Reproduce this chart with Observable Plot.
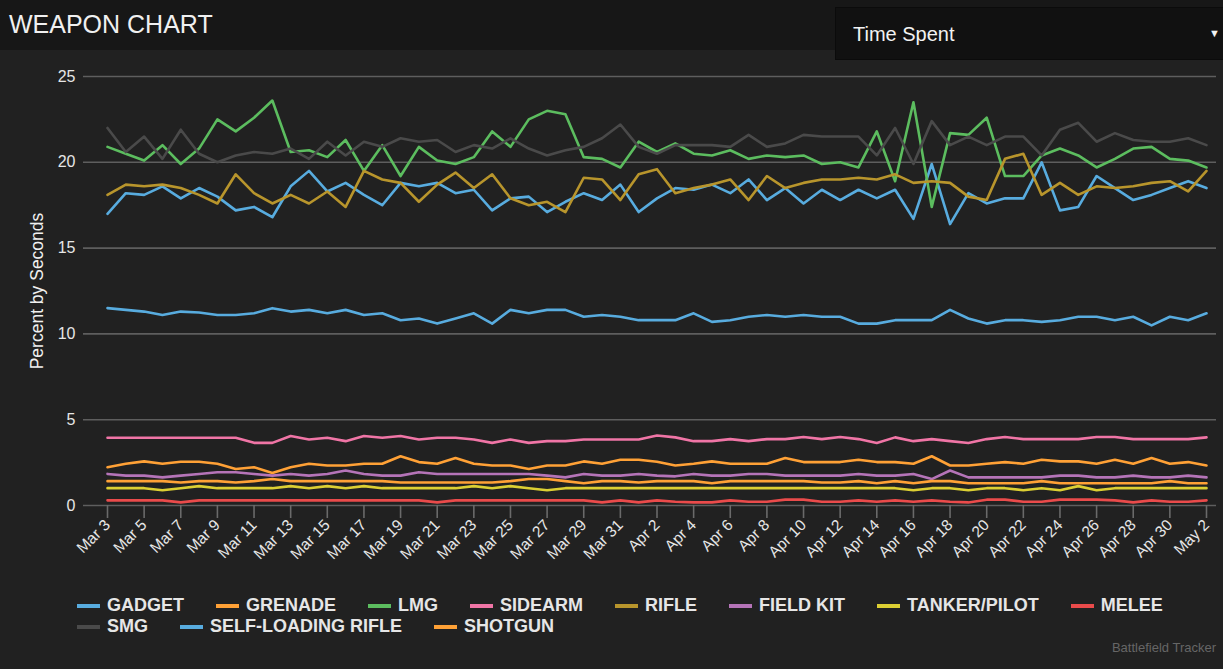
<!DOCTYPE html>
<html>
<head>
<meta charset="utf-8">
<script src="https://cdn.jsdelivr.net/npm/d3@7"></script>
<script src="https://cdn.jsdelivr.net/npm/@observablehq/plot@0.6"></script>
<style>
  html, body { margin: 0; padding: 0; background: #212121; overflow: hidden; width: 1223px; height: 669px; }
  body { position: relative; font-family: "Liberation Sans", Arial, sans-serif; }
  #header { position: absolute; left: 0; top: 0; width: 1223px; height: 50px; background: #171717; }
  #title { position: absolute; left: 9px; top: 9px; font-size: 25px; color: #f0f0f0; line-height: 30px; }
  #dropdown { position: absolute; left: 835px; top: 7px; width: 400px; height: 53px; background: #111111; border: 1px solid #0b0b0b; box-sizing: border-box; }
  #dropdown .lbl { position: absolute; left: 17px; top: 14px; font-size: 20px; color: #f2f2f2; line-height: 24px; }
  #dropdown .arr { position: absolute; left: 373px; top: 19px; font-size: 11px; color: #f2f2f2; }
  #chart { position: absolute; left: 0; top: 50px; }
  #legend { position: absolute; left: 77px; top: 595px; width: 1140px; display: flex; flex-wrap: wrap; }
  .item { display: flex; align-items: center; height: 21px; margin-right: 32px; font-weight: bold; font-size: 18px; color: #e6e6e6; }
  .sw { width: 23px; height: 4px; margin-right: 7px; }
  #credit { position: absolute; right: 7px; top: 640px; font-size: 13px; color: #666; }
</style>
</head>
<body>
<div id="header"><div id="title">WEAPON CHART</div></div>
<div id="dropdown"><span class="lbl">Time Spent</span><span class="arr">▼</span></div>
<div id="chart"></div>
<div id="legend"></div>
<div id="credit">Battlefield Tracker</div>
<script>
const startDay = "2019-03-03";
const endDay = "2019-05-02";
const yTicks = [0, 5, 10, 15, 20, 25];
const yLabel = "Percent by Seconds";

const weapons = ["GADGET", "GRENADE", "LMG", "SIDEARM", "RIFLE", "FIELD KIT", "TANKER/PILOT", "MELEE", "SMG", "SELF-LOADING RIFLE", "SHOTGUN"];
const colors = ["#58acdf", "#ffa136", "#5cbd5f", "#f075a6", "#b8952c", "#b574b8", "#dccf33", "#ea4b4b", "#4a4a4a", "#58acdf", "#ffa136"];

const gadget = [17.0,18.2,18.1,18.6,17.9,18.5,18.0,17.2,17.4,16.8, 18.6,19.5,18.3,18.8,18.1,17.5,18.8,18.6,18.8,18.2, 18.4,17.2,17.9,18.0,17.1,17.7,18.2,17.8,18.7,17.1, 17.9,18.5,18.4,18.7,18.2,19.0,17.8,18.5,17.6,18.4, 17.8,18.4,17.9,18.4,16.7,19.9,16.4,18.2,17.6,17.9, 17.9,20.0,17.2,17.4,19.2,18.5,17.8,18.1,18.5,18.9, 18.5];
const grenade = [2.23,2.43,2.57,2.43,2.55,2.55,2.43,2.13,2.23,1.90, 2.23,2.43,2.33,2.33,2.43,2.43,2.87,2.53,2.43,2.77, 2.43,2.33,2.33,2.13,2.33,2.33,2.57,2.43,2.67,2.67, 2.55,2.33,2.43,2.57,2.43,2.43,2.43,2.77,2.53,2.53, 2.53,2.67,2.53,2.53,2.43,2.87,2.33,2.33,2.43,2.53, 2.43,2.67,2.57,2.57,2.43,2.67,2.43,2.77,2.43,2.53, 2.33];
const lmg = [20.9,20.5,20.1,21.0,19.9,20.8,22.5,21.8,22.6,23.6, 20.6,20.7,20.3,21.3,19.5,21.0,19.2,20.9,20.1,19.9, 20.3,21.8,20.9,22.5,23.0,22.8,20.3,20.2,19.7,21.2, 20.6,21.1,20.5,20.4,20.7,20.2,20.4,20.3,20.4,19.9, 20.0,19.7,21.8,18.9,23.5,17.4,21.7,21.6,22.6,19.2, 19.2,20.4,20.8,20.4,19.7,20.2,20.8,20.9,20.2,20.1, 19.7];
const sidearm = [3.95,3.95,3.95,3.95,3.95,3.95,3.95,3.95,3.65,3.65, 4.05,3.85,3.95,3.75,4.05,3.95,4.05,3.85,3.95,3.95, 3.85,3.65,3.85,3.65,3.75,3.75,3.85,3.85,3.85,3.85, 4.08,3.97,3.75,3.75,3.87,3.75,3.87,3.87,3.99,3.87, 3.99,3.87,3.64,3.97,3.75,3.87,3.75,3.64,3.87,3.99, 3.87,3.87,3.87,3.87,3.99,3.99,3.87,3.87,3.87,3.87, 3.97];
const rifle = [18.1,18.7,18.6,18.7,18.5,18.1,17.6,19.3,18.2,17.6, 18.1,17.6,18.3,17.4,19.5,19.0,18.8,17.7,18.7,19.4, 18.5,19.3,17.9,17.5,17.7,17.1,19.1,19.0,17.8,19.3, 19.6,18.2,18.5,18.7,19.0,17.8,19.2,18.5,18.8,19.0, 19.0,19.1,19.0,19.3,18.8,18.9,18.8,18.0,17.8,20.2, 20.5,18.1,18.8,18.1,18.6,18.5,18.6,18.8,18.9,18.3, 19.5];
const fieldKit = [1.84,1.74,1.74,1.64,1.74,1.84,1.94,1.94,1.84,1.74, 1.84,1.74,1.84,2.04,1.84,1.74,1.74,1.94,1.84,1.84, 1.84,1.84,1.84,1.84,1.74,1.64,1.84,1.74,1.74,1.84, 1.74,1.70,1.84,1.74,1.74,1.84,1.84,1.74,1.74,1.74, 1.74,1.84,1.74,1.74,1.84,1.54,2.04,1.64,1.64,1.64, 1.64,1.64,1.74,1.74,1.64,1.64,1.74,1.64,1.64,1.74, 1.64];
const tanker = [1.01,1.01,1.01,0.89,1.01,1.13,1.01,1.01,1.01,1.01, 1.13,1.01,1.13,1.01,1.13,1.01,1.01,1.01,1.01,1.01, 1.13,1.01,1.13,1.01,0.89,1.01,1.01,1.01,1.01,1.01, 1.01,1.01,1.01,1.01,1.01,1.01,1.01,1.01,1.01,1.01, 1.01,1.01,1.01,1.01,0.89,1.01,1.01,0.89,1.01,1.01, 0.89,1.01,0.89,1.13,0.89,1.01,1.01,1.01,1.01,1.01, 1.01];
const melee = [0.30,0.30,0.30,0.30,0.18,0.30,0.30,0.30,0.30,0.30, 0.30,0.30,0.30,0.30,0.30,0.30,0.30,0.30,0.18,0.30, 0.30,0.30,0.30,0.30,0.30,0.30,0.30,0.18,0.30,0.18, 0.30,0.22,0.18,0.18,0.30,0.22,0.22,0.34,0.34,0.22, 0.22,0.30,0.22,0.30,0.22,0.30,0.22,0.18,0.34,0.34, 0.22,0.22,0.34,0.34,0.34,0.30,0.18,0.30,0.22,0.22, 0.30];
const smg = [22.0,20.6,21.5,20.2,21.9,20.5,20.0,20.4,20.6,20.5, 20.8,20.2,21.2,20.4,21.2,20.9,21.4,21.2,21.3,20.6, 21.0,20.8,21.4,20.8,20.4,20.7,20.9,21.4,22.2,20.9, 20.5,21.0,21.0,21.0,20.9,21.6,20.9,21.1,21.6,21.5, 21.5,21.5,20.4,22.0,19.9,22.4,21.0,21.5,21.0,21.5, 21.5,20.4,21.9,22.3,21.2,21.7,21.3,21.2,21.2,21.4, 21.0];
const selfLoading = [11.5,11.4,11.3,11.1,11.3,11.25,11.1,11.1,11.2,11.5, 11.3,11.4,11.2,11.4,11.1,11.2,10.8,10.9,10.6,10.9, 11.2,10.6,11.4,11.2,11.4,11.4,11.0,11.1,11.0,10.8, 10.8,10.8,11.2,10.7,10.8,11.0,11.1,11.0,11.1,11.0, 11.0,10.6,10.6,10.8,10.8,10.8,11.4,10.9,10.6,10.8, 10.8,10.7,10.8,11.0,11.0,10.8,11.0,10.5,11.0,10.8, 11.2];
const shotgun = [1.42,1.42,1.42,1.42,1.34,1.42,1.42,1.34,1.42,1.54, 1.42,1.42,1.42,1.42,1.42,1.42,1.34,1.34,1.34,1.34, 1.34,1.34,1.42,1.54,1.54,1.42,1.30,1.42,1.42,1.34, 1.42,1.42,1.42,1.30,1.42,1.42,1.42,1.42,1.42,1.34, 1.34,1.42,1.30,1.42,1.30,1.42,1.42,1.30,1.30,1.30, 1.30,1.42,1.30,1.30,1.30,1.30,1.30,1.30,1.42,1.30, 1.30];

const seriesValues = [gadget, grenade, lmg, sidearm, rifle, fieldKit, tanker, melee, smg, selfLoading, shotgun];

const start = new Date(startDay + "T00:00:00Z");
const end = new Date(endDay + "T00:00:00Z");
const dates = d3.utcDay.range(start, d3.utcDay.offset(end, 1));
const xTicks = dates.filter((d, i) => i % 2 === 0);

const rows = [];
weapons.forEach((w, k) => {
  seriesValues[k].forEach((v, i) => rows.push({weapon: w, date: dates[i], value: v}));
});

const plot = Plot.plot({
  width: 1223,
  height: 540,
  marginTop: 26,
  marginBottom: 85,
  marginLeft: 83,
  marginRight: 7,
  style: {background: "transparent", color: "#e0e0e0", fontFamily: "Liberation Sans, Arial, sans-serif"},
  x: {type: "utc", domain: [start, end], insetLeft: 24, insetRight: 10},
  y: {domain: [0, 25]},
  color: {domain: weapons, range: colors},
  marks: [
    Plot.gridY(yTicks, {stroke: "#5e5e5e", strokeOpacity: 1, strokeWidth: 1.6}),
    Plot.axisY(yTicks, {tickSize: 0, tickPadding: 8, fontSize: 16, fill: "#e6e6e6", label: null}),
    Plot.text([yLabel], {frameAnchor: "left", textAnchor: "middle", rotate: -90, dx: -46, fontSize: 17.5, fill: "#f0f0f0"}),
    Plot.axisX(xTicks, {tickFormat: d3.utcFormat("%b %-d"), tickRotate: -45, tickSize: 13, tickPadding: 4, stroke: "#6a6a6a", strokeWidth: 1.6, fontSize: 15.5, fill: "#e6e6e6", label: null}),
    Plot.lineY(rows, {x: "date", y: "value", z: "weapon", stroke: "weapon", strokeWidth: 2.6, strokeLinejoin: "round"})
  ]
});
document.getElementById("chart").appendChild(plot);

const legend = document.getElementById("legend");
weapons.forEach((w, k) => {
  const it = document.createElement("div");
  it.className = "item";
  const sw = document.createElement("span");
  sw.className = "sw";
  sw.style.background = colors[k];
  it.appendChild(sw);
  it.appendChild(document.createTextNode(w));
  legend.appendChild(it);
});
</script>
</body>
</html>
